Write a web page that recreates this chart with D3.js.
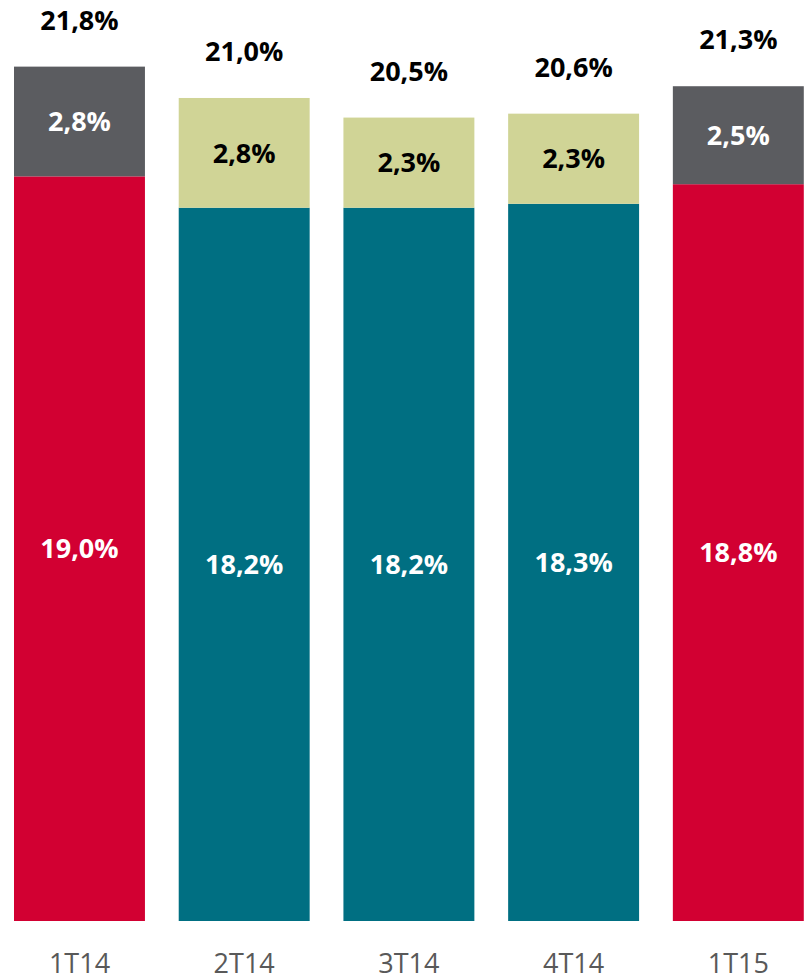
<!DOCTYPE html>
<html>
<head>
<meta charset="utf-8">
<script src="https://cdn.jsdelivr.net/npm/d3@7"></script>
<style>
  html, body { margin: 0; padding: 0; background: #fff; }
  svg { display: block; }
</style>
</head>
<body>
<svg id="chart" width="808" height="980"></svg>
<script>
const categories = ["1T14", "2T14", "3T14", "4T14", "1T15"];
const baseValues = [19.0, 18.2, 18.2, 18.3, 18.8];
const topValues = [2.8, 2.8, 2.3, 2.3, 2.5];
const totalValues = [21.8, 21.0, 20.5, 20.6, 21.3];
const baseColors = ["#D20032", "#006F82", "#006F82", "#006F82", "#D20032"];
const topColors = ["#5B5C60", "#D0D496", "#D0D496", "#D0D496", "#5B5C60"];
const topTextColors = ["#ffffff", "#000000", "#000000", "#000000", "#ffffff"];

const fmt = v => v.toFixed(1).replace(".", ",") + "%";

const svg = d3.select("#chart");
const x = d3.scaleBand().domain(categories).range([14, 803.8]).paddingInner(0.205).paddingOuter(0);
const y = d3.scaleLinear().domain([0, 23.5]).range([921, 0]);

const data = categories.map((c, i) => ({
  c, base: baseValues[i], top: topValues[i], total: totalValues[i],
  bc: baseColors[i], tc: topColors[i], ttc: topTextColors[i]
}));

const g = svg.append("g");
g.selectAll("rect.base").data(data).join("rect")
  .attr("class", "base")
  .attr("x", d => x(d.c))
  .attr("width", x.bandwidth())
  .attr("y", d => y(d.base))
  .attr("height", d => y(0) - y(d.base))
  .attr("fill", d => d.bc);
g.selectAll("rect.top").data(data).join("rect")
  .attr("class", "top")
  .attr("x", d => x(d.c))
  .attr("width", x.bandwidth())
  .attr("y", d => y(d.base + d.top))
  .attr("height", d => y(d.base) - y(d.base + d.top))
  .attr("fill", d => d.tc);

const font = "'Open Sans', sans-serif";
g.selectAll("text.bl").data(data).join("text")
  .attr("x", d => x(d.c) + x.bandwidth() / 2)
  .attr("y", d => (y(0) + y(d.base)) / 2)
  .attr("dy", "0.36em")
  .attr("text-anchor", "middle")
  .attr("font-family", font).attr("font-weight", 700).attr("font-size", 27)
  .attr("fill", "#fff")
  .text(d => fmt(d.base));
g.selectAll("text.tl").data(data).join("text")
  .attr("x", d => x(d.c) + x.bandwidth() / 2)
  .attr("y", d => (y(d.base) + y(d.base + d.top)) / 2)
  .attr("dy", "0.36em")
  .attr("text-anchor", "middle")
  .attr("font-family", font).attr("font-weight", 700).attr("font-size", 27)
  .attr("fill", d => d.ttc)
  .text(d => fmt(d.top));
g.selectAll("text.tot").data(data).join("text")
  .attr("x", d => x(d.c) + x.bandwidth() / 2)
  .attr("y", d => y(d.total) - 37)
  .attr("text-anchor", "middle")
  .attr("font-family", font).attr("font-weight", 700).attr("font-size", 27)
  .attr("fill", "#000")
  .text(d => fmt(d.total));

const xAxis = svg.append("g").attr("transform", "translate(0,921)")
  .call(d3.axisBottom(x).tickSize(0).tickPadding(0));
xAxis.select(".domain").remove();
xAxis.selectAll("text")
  .attr("y", 52).attr("dy", 0)
  .attr("font-family", font).attr("font-size", 27)
  .attr("fill", "#595959");
</script>
</body>
</html>
